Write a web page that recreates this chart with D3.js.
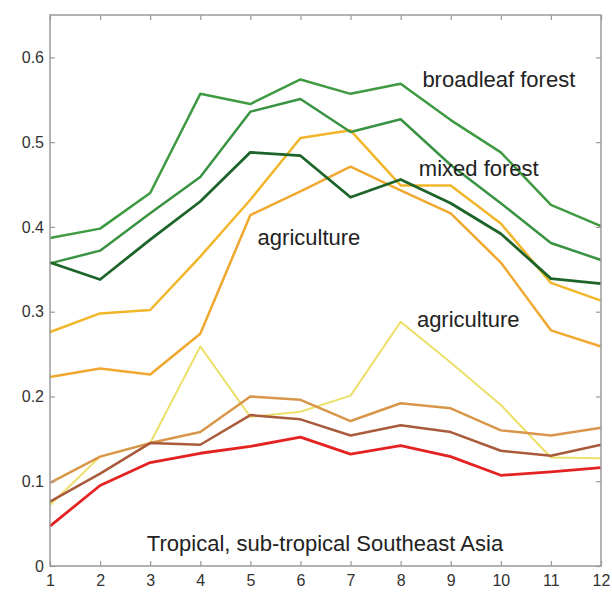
<!DOCTYPE html>
<html><head><meta charset="utf-8">
<script src="https://cdn.jsdelivr.net/npm/d3@7"></script>
<style>body{margin:0;background:#fff}svg{display:block}</style>
</head><body>
<svg id="c" width="612" height="592"></svg>
<script>
const months = [1,2,3,4,5,6,7,8,9,10,11,12];
const xTicks = [1,2,3,4,5,6,7,8,9,10,11,12];
const yTicks = [0,0.1,0.2,0.3,0.4,0.5,0.6];
const broadleafTop = [0.387,0.398,0.440,0.557,0.545,0.574,0.557,0.569,0.526,0.488,0.426,0.401];
const broadleafB   = [0.357,0.372,0.416,0.459,0.536,0.551,0.512,0.527,0.473,0.428,0.381,0.361];
const mixedForest  = [0.358,0.338,0.385,0.430,0.488,0.484,0.435,0.456,0.428,0.392,0.339,0.333];
const agriA        = [0.276,0.298,0.302,0.365,0.432,0.505,0.514,0.449,0.449,0.404,0.334,0.313];
const agriB        = [0.223,0.233,0.226,0.274,0.414,0.442,0.471,0.443,0.416,0.358,0.278,0.259];
const agriYellow   = [0.072,0.129,0.145,0.259,0.176,0.182,0.201,0.288,0.240,0.190,0.128,0.127];
const tanSeries    = [0.098,0.129,0.145,0.158,0.200,0.196,0.171,0.192,0.186,0.160,0.154,0.163];
const brownSeries  = [0.076,0.109,0.145,0.143,0.178,0.173,0.154,0.166,0.158,0.136,0.130,0.143];
const redSeries    = [0.047,0.095,0.122,0.133,0.141,0.152,0.132,0.142,0.129,0.107,0.111,0.116];
const seriesList = [
  {v: agriYellow, c:"#ece06a", w:2},
  {v: tanSeries, c:"#d8964a", w:2.5},
  {v: brownSeries, c:"#a85a3a", w:2.5},
  {v: redSeries, c:"#e42222", w:2.8},
  {v: agriB, c:"#f0a830", w:2.5},
  {v: agriA, c:"#f2b62a", w:2.5},
  {v: broadleafTop, c:"#3f9a42", w:2.5},
  {v: broadleafB, c:"#3a9243", w:2.5},
  {v: mixedForest, c:"#1d6428", w:2.8}
];
const labels = [
  {t:"broadleaf forest", x:9.96, y:0.572},
  {t:"mixed forest", x:9.56, y:0.467},
  {t:"agriculture", x:6.17, y:0.385},
  {t:"agriculture", x:9.35, y:0.289},
  {t:"Tropical, sub-tropical Southeast Asia", x:6.49, y:0.025}
];
const L=50, R=601, T=15, B=566;
const svg = d3.select("#c");
const x = d3.scaleLinear().domain([1,12]).range([L,R]);
const y = d3.scaleLinear().domain([0,0.65]).range([B,T]);
const axisColor = "#9a9a9a";
const font = "Liberation Sans, Arial, sans-serif";

const line = d3.line().x((d,i)=>x(months[i])).y(d=>y(d));
seriesList.forEach(s=>{
  svg.append("path").attr("d", line(s.v)).attr("fill","none")
    .attr("stroke", s.c).attr("stroke-width", s.w).attr("stroke-linejoin","round");
});

// box
svg.append("rect").attr("x",L).attr("y",T).attr("width",R-L).attr("height",B-T)
  .attr("fill","none").attr("stroke",axisColor).attr("stroke-width",1.5);

const gx = svg.append("g").attr("transform",`translate(0,${B})`)
  .call(d3.axisBottom(x).tickValues(xTicks).tickSize(-5).tickPadding(9).tickFormat(d3.format("d")));
const gxt = svg.append("g").attr("transform",`translate(0,${T})`)
  .call(d3.axisTop(x).tickValues(xTicks).tickSize(-5).tickFormat(""));
const gy = svg.append("g").attr("transform",`translate(${L},0)`)
  .call(d3.axisLeft(y).tickValues(yTicks).tickSize(-5).tickPadding(6).tickFormat(d=>d===0?"0":d3.format(".1f")(d)));
const gyr = svg.append("g").attr("transform",`translate(${R},0)`)
  .call(d3.axisRight(y).tickValues(yTicks).tickSize(-5).tickFormat(""));
[gx,gxt,gy,gyr].forEach(g=>{
  g.select(".domain").remove();
  g.selectAll(".tick line").attr("stroke",axisColor).attr("stroke-width",1.2);
  g.selectAll("text").attr("fill","#333").style("font-family",font).style("font-size","16px");
});

labels.forEach(l=>{
  svg.append("text").attr("x",x(l.x)).attr("y",y(l.y)).attr("text-anchor","middle")
    .attr("dominant-baseline","middle")
    .style("font-family",font).style("font-size","22px").attr("fill","#222").text(l.t);
});
</script>
</body></html>
